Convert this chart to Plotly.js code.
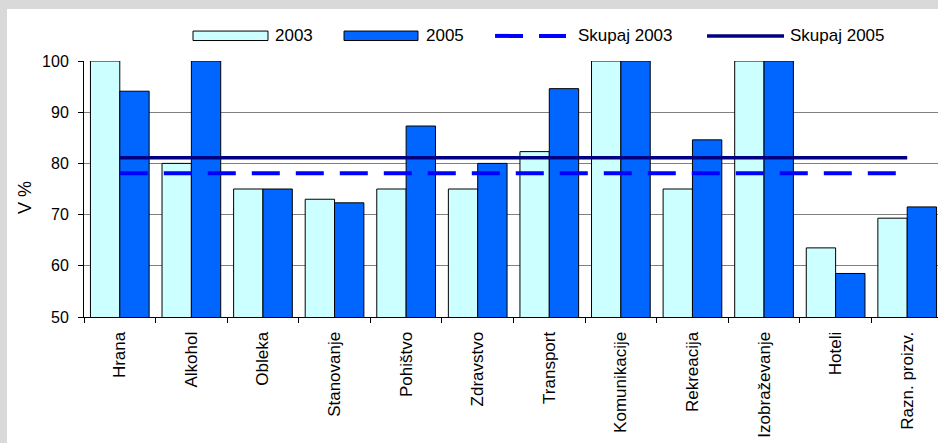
<!DOCTYPE html>
<html>
<head>
<meta charset="utf-8">
<script src="https://cdn.plot.ly/plotly-3.0.1.min.js"></script>
<style>
  html, body { margin: 0; padding: 0; width: 938px; height: 443px; overflow: hidden; background: #d9d9d9; }
  #chart { position: absolute; left: 7px; top: 9px; width: 945px; height: 434px; }
</style>
</head>
<body>
<div id="chart"></div>
<script>
const categories = ["Hrana", "Alkohol", "Obleka", "Stanovanje", "Pohištvo", "Zdravstvo", "Transport", "Komunikacije", "Rekreacija", "Izobraževanje", "Hoteli", "Razn. proizv."];
const values2003 = [100, 80, 75, 73, 75, 75, 82.3, 100, 75, 100, 63.5, 69.3];
const values2005 = [94.1, 100, 75, 72.3, 87.3, 80, 94.6, 100, 84.6, 100, 58.5, 71.5];
const skupaj2003 = [78.1, 78.1, 78.1, 78.1, 78.1, 78.1, 78.1, 78.1, 78.1, 78.1, 78.1, 78.1];
const skupaj2005 = [81.1, 81.1, 81.1, 81.1, 81.1, 81.1, 81.1, 81.1, 81.1, 81.1, 81.1, 81.1];
const seriesNames = ["2003", "2005", "Skupaj 2003", "Skupaj 2005"];
const yTitle = "V %";

const FONT = "Liberation Sans, Arial, sans-serif";
const C2003 = "#ccffff", C2005 = "#0066ff", CS03 = "#0000ff", CS05 = "#000080";

const traces = [
  { type: "bar", name: seriesNames[0], x: categories, y: values2003,
    marker: { color: C2003, line: { color: "#000000", width: 1 } }, showlegend: false },
  { type: "bar", name: seriesNames[1], x: categories, y: values2005,
    marker: { color: C2005, line: { color: "#000000", width: 1 } }, showlegend: false },
  { type: "scatter", mode: "lines", name: seriesNames[2], x: categories, y: skupaj2003,
    line: { color: CS03, width: 4, dash: "28px,16px" }, showlegend: false, cliponaxis: false },
  { type: "scatter", mode: "lines", name: seriesNames[3], x: categories, y: skupaj2005,
    line: { color: CS05, width: 3.5 }, showlegend: false, cliponaxis: false }
];

// custom legend (wide symbols as in the reference)
const ly = 1.098, lt = 1.117, lb = 1.080;
const shapes = [
  { type: "rect", xref: "paper", yref: "paper", x0: 0.1269, x1: 0.2142, y0: lb, y1: lt,
    fillcolor: C2003, line: { color: "#000000", width: 1 } },
  { type: "rect", xref: "paper", yref: "paper", x0: 0.3027, x1: 0.3888, y0: lb, y1: lt,
    fillcolor: C2005, line: { color: "#000000", width: 1 } },
  { type: "line", xref: "paper", yref: "paper", x0: 0.4785, x1: 0.5611, y0: ly, y1: ly,
    line: { color: CS03, width: 4, dash: "28px,16px" } },
  { type: "line", xref: "paper", yref: "paper", x0: 0.7253, x1: 0.8149, y0: ly, y1: ly,
    line: { color: CS05, width: 3.5 } }
];
const legFont = { family: FONT, size: 17, color: "#000000" };
const annotations = [
  { xref: "paper", yref: "paper", x: 0.2200, y: ly, xanchor: "left", yanchor: "middle", text: seriesNames[0], showarrow: false, font: legFont },
  { xref: "paper", yref: "paper", x: 0.3958, y: ly, xanchor: "left", yanchor: "middle", text: seriesNames[1], showarrow: false, font: legFont },
  { xref: "paper", yref: "paper", x: 0.5728, y: ly, xanchor: "left", yanchor: "middle", text: seriesNames[2], showarrow: false, font: legFont },
  { xref: "paper", yref: "paper", x: 0.8196, y: ly, xanchor: "left", yanchor: "middle", text: seriesNames[3], showarrow: false, font: legFont },
  { xref: "paper", yref: "paper", x: -0.0687, y: 0.469, xanchor: "center", yanchor: "middle", textangle: -90,
    text: yTitle, showarrow: false, font: { family: FONT, size: 18, color: "#000000" } }
];

const layout = {
  width: 945, height: 434,
  margin: { l: 77, r: 9, t: 52, b: 126 },
  paper_bgcolor: "#ffffff",
  plot_bgcolor: "#ffffff",
  font: { family: FONT, size: 16, color: "#000000" },
  barmode: "group",
  bargap: 0.18,
  bargroupgap: 0,
  showlegend: false,
  xaxis: {
    type: "category",
    showline: true, linecolor: "#000000", linewidth: 1,
    ticks: "outside", tickson: "boundaries", ticklen: 5, tickcolor: "#000000",
    tickangle: -90,
    ticklabelstandoff: 7,
    tickfont: { family: FONT, size: 17, color: "#000000" },
    showgrid: false
  },
  yaxis: {
    range: [50, 100], dtick: 10, tick0: 50,
    showline: true, linecolor: "#000000", linewidth: 1,
    ticks: "outside", ticklen: 5, tickcolor: "#000000",
    tickfont: { family: FONT, size: 16, color: "#000000" },
    showgrid: true, gridcolor: "#808080", gridwidth: 1,
    zeroline: false,
    ticklabelstandoff: 6
  },
  shapes: shapes,
  annotations: annotations
};

Plotly.newPlot("chart", traces, layout, { displayModeBar: false, staticPlot: true });
</script>
</body>
</html>
